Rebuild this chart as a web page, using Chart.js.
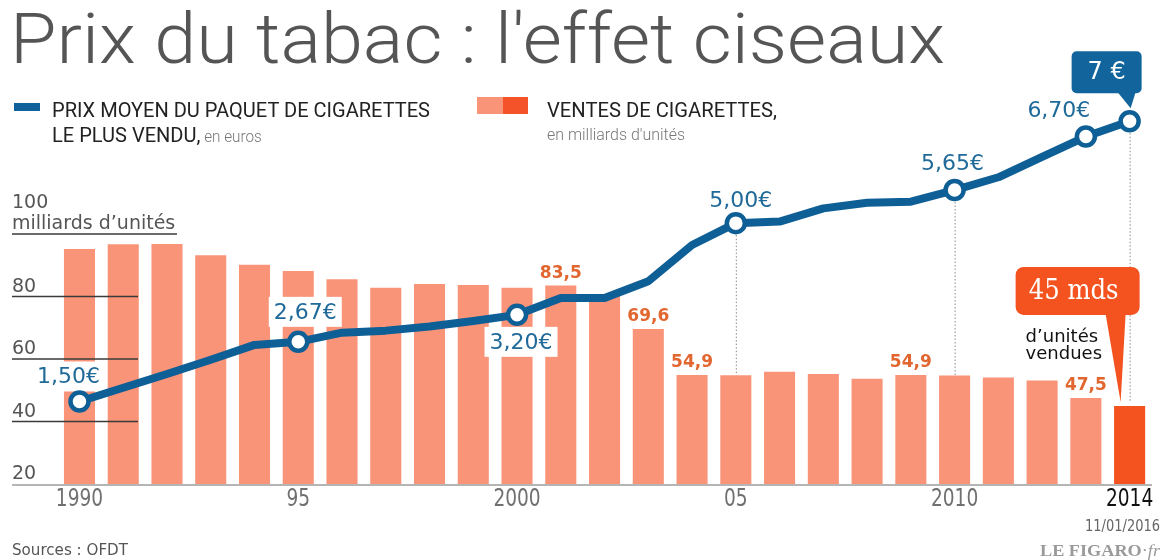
<!DOCTYPE html>
<html><head><meta charset="utf-8">
<script src="https://cdn.jsdelivr.net/npm/chart.js@4.4.1/dist/chart.umd.min.js"></script>
<style>
html,body{margin:0;padding:0;background:#fff;}
#wrap{position:relative;width:1165px;height:560px;overflow:hidden;background:#fff;}
#c{position:absolute;left:0;top:0;}
.t{position:absolute;white-space:nowrap;transform-origin:0 0;display:inline-block;}
.leg{font-family:Roboto,"Noto Sans",sans-serif;font-size:21px;color:#222;}
.sub{font-family:Roboto,"Noto Sans",sans-serif;font-size:16px;color:#777;font-weight:300;}
.cond{font-family:"Liberation Sans Narrow","DejaVu Sans Condensed",sans-serif;font-size:15px;color:#555;}
.sw{position:absolute;}
</style></head><body>
<div id="wrap">
<canvas id="c" width="1165" height="560"></canvas>
<div class="t" id="title" style="font-family:Roboto,'Noto Sans',sans-serif;font-weight:300;font-size:70px;color:#555;">Prix du tabac : l'effet ciseaux</div>
<div class="sw" style="left:14px;top:103px;width:26px;height:8px;background:#11619B;"></div>
<div class="t leg" id="leg1a">PRIX MOYEN DU PAQUET DE CIGARETTES</div>
<div class="t leg" id="leg1b">LE PLUS VENDU,<span class="sub"> en euros</span></div>
<div class="sw" style="left:477px;top:97px;width:26px;height:17px;background:#FA9479;"></div>
<div class="sw" style="left:503px;top:97px;width:25px;height:17px;background:#F4532A;"></div>
<div class="t leg" id="leg2a">VENTES DE CIGARETTES,</div>
<div class="t sub" id="leg2b">en milliards d'unités</div>
<div class="t cond" id="src">Sources : OFDT</div>
<div class="t cond" id="date" style="color:#666;">11/01/2016</div>
<div class="t" id="logo" style="font-family:'Liberation Serif','DejaVu Serif',serif;font-weight:bold;font-size:17px;color:#9a9a9a;">LE FIGARO<span style="font-weight:normal;">·</span><i style="font-weight:normal;">fr</i></div>
</div>
<script>
// ---------- DATA ----------
const years = [1990,1991,1992,1993,1994,1995,1996,1997,1998,1999,2000,2001,2002,2003,2004,2005,2006,2007,2008,2009,2010,2011,2012,2013,2014];
const sales = [95.2,96.7,96.8,93.2,90.2,88.2,85.5,82.8,84.0,83.7,82.8,83.5,80.5,69.6,54.9,54.8,55.9,55.2,53.7,54.9,54.7,54.1,53.1,47.5,45.0];
const prices = [1.50,1.77,2.04,2.32,2.61,2.67,2.85,2.89,2.97,3.08,3.20,3.53,3.53,3.86,4.57,5.00,5.03,5.29,5.40,5.42,5.65,5.90,6.30,6.70,7.00];
const tickYears = [1990,1995,2000,2005,2010,2014];
const tickTexts = ['1990','95','2000','05','2010','2014'];
const yTicks = [20,40,60,80,100];
const yUnit = "milliards d\u2019unités";
const priceLabelYears = [1990,1995,2000,2005,2010,2013];
const markedYears = [1990,1995,2000,2005,2010,2013,2014];
const barLabelYears = [2001,2003,2004,2009,2013];
const dottedYears = [2005,2010,2014];
const lastPriceText = '7 €';
const lastSalesText = '45 mds';
const lastSalesSub = ["d\u2019unités","vendues"];

// ---------- STYLE ----------
const BLUE = '#0F5F97', BLUE_TXT = '#1F6A99', SALMON = '#FA9479', ORANGE = '#F4521F', LBL = '#E2662F';
const priceLabelOffsets = {1990:[-11,-25],1995:[7,-30],2000:[4,27],2005:[5,-23],2010:[-2,-27],2013:[-27,-26]};
const idx = y => years.indexOf(y);

function fmt(v, d){ return v.toFixed(d).replace('.', ','); }

const overlay = {
  id:'overlay',
  afterDatasetDraw(chart, args){
    if (args.meta.type !== 'bar') return;
    const ctx = chart.ctx, yS = chart.scales.y, xS = chart.scales.x;
    const bars = chart.getDatasetMeta(1).data, pts = chart.getDatasetMeta(0).data;
    ctx.save();
    // axis baseline
    const base = yS.getPixelForValue(20);
    ctx.strokeStyle = '#b5b5b5'; ctx.lineWidth = 2;
    ctx.beginPath(); ctx.moveTo(12, base+1); ctx.lineTo(1152, base+1); ctx.stroke();
    // y labels & short grid lines
    ctx.font = '19px "DejaVu Sans"'; ctx.fillStyle = '#555'; ctx.textBaseline = 'alphabetic'; ctx.textAlign = 'left';
    yTicks.forEach(v => {
      const y = yS.getPixelForValue(v);
      if (v === 100) {
        ctx.fillText(String(v), 12, y-26);
        ctx.fillText(yUnit, 12, y-5);
      } else ctx.fillText(String(v), 12, y-5);
      if (v === 20) return;
      ctx.strokeStyle = '#3a3a3a'; ctx.lineWidth = 1.5;
      ctx.beginPath(); ctx.moveTo(12, y); ctx.lineTo(v === 100 ? 177 : 138, y); ctx.stroke();
    });
    // x tick labels (condensed)
    ctx.font = '24px "Liberation Sans Narrow", "DejaVu Sans Condensed", sans-serif';
    ctx.textAlign = 'center';
    tickYears.forEach((yr, k) => {
      const x = xS.getPixelForValue(idx(yr));
      ctx.save();
      ctx.translate(x, base + 22);
      ctx.scale(0.86, 1);
      ctx.fillStyle = yr === 2014 ? '#111' : '#707070';
      ctx.fillText(tickTexts[k], 0, 0);
      ctx.restore();
    });
    // dotted lines
    ctx.strokeStyle = '#8a8a8a'; ctx.lineWidth = 1; ctx.setLineDash([1.5, 2]);
    dottedYears.forEach(yr => {
      const i = idx(yr), p = pts[i], b = bars[i];
      ctx.beginPath(); ctx.moveTo(p.x+0.5, p.y + 12); ctx.lineTo(p.x+0.5, b.y - (yr === 2014 ? 4 : 0)); ctx.stroke();
    });
    ctx.setLineDash([]);
    // bar labels
    ctx.font = 'bold 17px "DejaVu Sans"'; ctx.fillStyle = LBL; ctx.textBaseline = 'middle'; ctx.textAlign = 'center';
    barLabelYears.forEach(yr => {
      const i = idx(yr), b = bars[i];
      ctx.fillText(fmt(sales[i], 1), b.x, b.y - 12);
    });
    // price labels with white boxes
    ctx.font = '22px "DejaVu Sans"';
    priceLabelYears.forEach(yr => {
      const i = idx(yr), p = pts[i], o = priceLabelOffsets[yr];
      const t = fmt(prices[i], 2) + '€';
      const w = ctx.measureText(t).width + 10;
      const cx = p.x + o[0], cy = p.y + o[1];
      ctx.fillStyle = '#fff'; ctx.fillRect(cx - w/2, cy - 15, w, 30);
      ctx.fillStyle = BLUE_TXT; ctx.fillText(t, cx, cy + 1);
    });
    ctx.restore();
  },
  afterDraw(chart){
    const ctx = chart.ctx;
    const bars = chart.getDatasetMeta(1).data, pts = chart.getDatasetMeta(0).data;
    const n = years.length - 1;
    ctx.save();
    // 7 € callout
    const p = pts[n];
    const bx0 = p.x - 58, bx1 = p.x + 12, by0 = p.y - 70, by1 = p.y - 28;
    ctx.fillStyle = '#11659C';
    ctx.beginPath(); ctx.roundRect(bx0, by0, bx1-bx0, by1-by0, 5); ctx.fill();
    ctx.beginPath(); ctx.moveTo(p.x-12, by1-1); ctx.lineTo(p.x+6, by1-1); ctx.lineTo(p.x+1, p.y-13); ctx.closePath(); ctx.fill();
    ctx.fillStyle = '#fff'; ctx.font = '24px "DejaVu Sans"'; ctx.textAlign = 'center'; ctx.textBaseline = 'middle';
    ctx.fillText(lastPriceText, (bx0+bx1)/2, (by0+by1)/2 + 1);
    // 45 mds callout
    const b = bars[n];
    const cx0 = b.x - 114, cx1 = b.x + 10, cy0 = b.y - 139, cy1 = b.y - 91;
    ctx.fillStyle = ORANGE;
    ctx.beginPath(); ctx.roundRect(cx0, cy0, cx1-cx0, cy1-cy0, 8); ctx.fill();
    ctx.beginPath(); ctx.moveTo(b.x-24, cy1-1); ctx.lineTo(b.x-4, cy1-1); ctx.lineTo(b.x-9, b.y-4); ctx.closePath(); ctx.fill();
    ctx.fillStyle = '#fff'; ctx.font = '27px "DejaVu Serif Condensed", "DejaVu Serif", serif';
    ctx.fillText(lastSalesText, (cx0+cx1)/2 - 4, (cy0+cy1)/2 + 1);
    ctx.fillStyle = '#111'; ctx.font = '18px "DejaVu Sans"'; ctx.textAlign = 'left'; ctx.textBaseline = 'alphabetic';
    ctx.fillText(lastSalesSub[0], cx0 + 10, b.y - 64);
    ctx.fillText(lastSalesSub[1], cx0 + 10, b.y - 47);
    ctx.restore();
  }
};

new Chart(document.getElementById('c'), {
  data: {
    labels: years,
    datasets: [
      { type:'line', label:'Prix moyen', data: prices, yAxisID:'yp', order:0,
        borderColor: BLUE, borderWidth: 8, borderJoinStyle:'round', borderCapStyle:'round', tension:0,
        pointRadius: c => markedYears.includes(years[c.dataIndex]) ? 9 : 0,
        pointBackgroundColor:'#fff', pointBorderColor: BLUE, pointBorderWidth: 4.5, clip: false },
      { type:'bar', label:'Ventes', data: sales, yAxisID:'y', order:1,
        backgroundColor: c => c.dataIndex === years.length-1 ? ORANGE : SALMON,
        barPercentage: 0.71, categoryPercentage: 1 }
    ]
  },
  options: {
    responsive:false, animation:false, events:[],
    layout:{ padding:{ left:57.6, right:12, top:109, bottom:76 } },
    plugins:{ legend:{display:false}, tooltip:{enabled:false}, title:{display:false} },
    scales:{
      x:{ display:false, offset:true },
      y:{ display:false, min:20, max:140 },
      yp:{ display:false, min:-0.12, max:7.24, position:'right' }
    }
  },
  plugins:[overlay]
});

// ---------- HTML text placement ----------
const mctx = document.createElement('canvas').getContext('2d');
function place(id, x, baseY, targetW, align, forceScale){
  const el = document.getElementById(id);
  const cs = getComputedStyle(el);
  const fs = parseFloat(cs.fontSize);
  mctx.font = `${cs.fontStyle} ${cs.fontWeight} ${fs}px ${cs.fontFamily}`;
  const mt = mctx.measureText('Hg');
  const asc = mt.fontBoundingBoxAscent, desc = mt.fontBoundingBoxDescent;
  el.style.lineHeight = fs + 'px';
  el.style.top = (baseY - ((fs - (asc + desc)) / 2 + asc)) + 'px';
  const w = el.getBoundingClientRect().width;
  const s = forceScale || (targetW ? targetW / w : 1);
  el.style.transform = `scaleX(${s})`;
  el.style.left = (align === 'right' ? x - w * s : x) + 'px';
  return s;
}
place('title', 10, 63, 935);
const s1 = place('leg1a', 52, 117, 378);
place('leg1b', 52, 142.5, null, null, s1);
place('leg2a', 547, 117, 230);
place('leg2b', 547, 140, 138);
place('src', 12, 555, 116);
place('date', 1160, 531, 75, 'right');
place('logo', 1160, 556, 120, 'right');
</script>
</body></html>
